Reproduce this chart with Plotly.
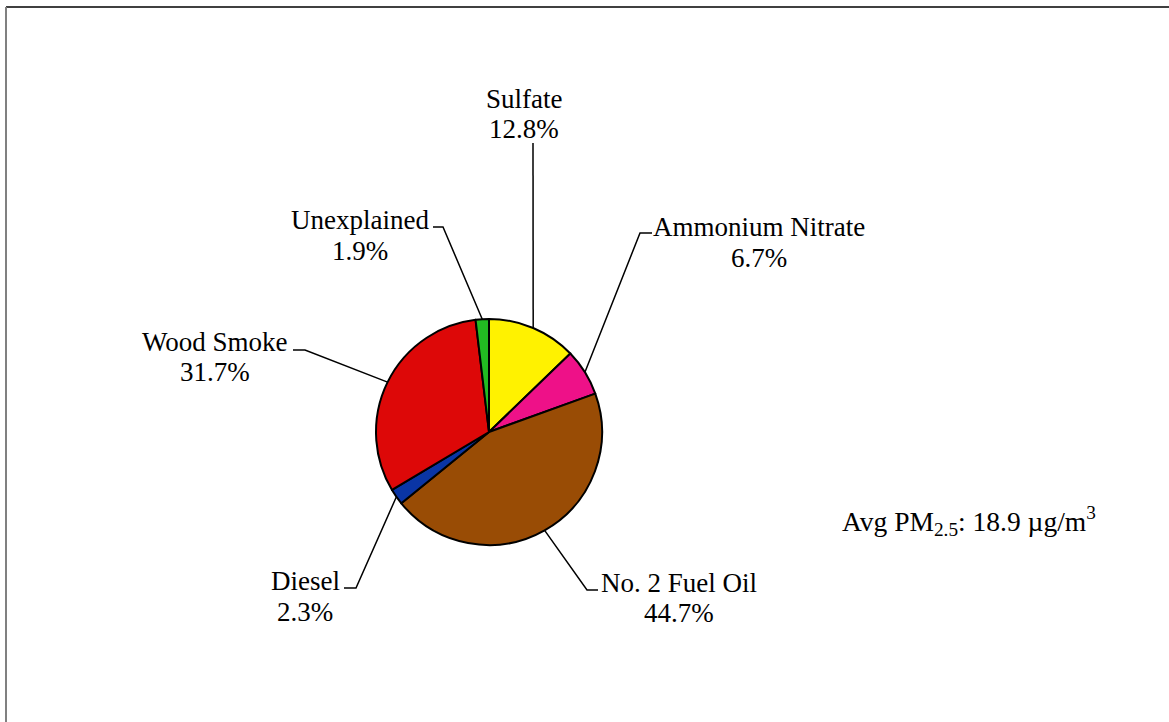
import math
import plotly.graph_objects as go

# ---- data ----
categories = ["Sulfate", "Ammonium Nitrate", "No. 2 Fuel Oil", "Diesel", "Wood Smoke", "Unexplained"]
shares = [12.8, 6.7, 44.7, 2.3, 31.7, 1.9]
colors = ["#FFF200", "#EE1188", "#994C05", "#0A35A5", "#DD0808", "#22BB22"]
note_text = "Avg PM<sub>2.5</sub>: 18.9 \u00b5g/m<sup>3</sup>"

# ---- layout (pixels) ----
W, H = 1169, 722
CX, CY, R = 489, 432, 113
FONT = "Liberation Serif, Times New Roman, serif"
FS = 27
# leader elbow, end of horizontal tick, label centre x, first/second line centre y
label_layout = [
    dict(elbow=(533, 143), end=(533, 143), cx=524, y1=99, y2=129),
    dict(elbow=(640, 233), end=(652, 233), cx=759, y1=227, y2=258),
    dict(elbow=(587, 590), end=(598, 590), cx=679, y1=583, y2=613),
    dict(elbow=(356, 588), end=(344, 588), cx=305, y1=581, y2=612),
    dict(elbow=(305, 350), end=(293, 350), cx=215, y1=342, y2=372),
    dict(elbow=(443, 227), end=(433, 227), cx=360, y1=220, y2=251),
]


def px(x):
    return x / W


def py(y):
    return 1 - y / H


fig = go.Figure()
fig.add_trace(go.Pie(
    labels=categories, values=shares, sort=False, direction="clockwise", rotation=0,
    marker=dict(colors=colors, line=dict(color="black", width=2)),
    textinfo="none", hoverinfo="label+percent", showlegend=False,
    domain=dict(x=[px(CX - R), px(CX + R)], y=[py(CY + R), py(CY - R)]),
))

shapes = []
annotations = []
total = sum(shares)
cum = 0.0
for cat, val, lay in zip(categories, shares, label_layout):
    mid = (cum + val / 2) / total
    cum += val
    ang = 2 * math.pi * mid
    sx = CX + R * math.sin(ang)
    sy = CY - R * math.cos(ang)
    ex, ey = lay["elbow"]
    tx, ty = lay["end"]
    path = f"M {px(sx)},{py(sy)} L {px(ex)},{py(ey)} L {px(tx)},{py(ty)}"
    shapes.append(dict(type="path", xref="paper", yref="paper", path=path,
                       line=dict(color="black", width=1.5)))
    for txt, yy in ((cat, lay["y1"]), (f"{val:.1f}%", lay["y2"])):
        annotations.append(dict(x=px(lay["cx"]), y=py(yy), xref="paper", yref="paper",
                                xanchor="center", yanchor="middle", text=txt, showarrow=False,
                                font=dict(family=FONT, size=FS, color="black")))

annotations.append(dict(x=px(840), y=py(521), xref="paper", yref="paper", xanchor="left",
                        yanchor="middle", text=note_text, showarrow=False,
                        font=dict(family=FONT, size=27.5, color="black")))

# chart frame
shapes.append(dict(type="line", xref="paper", yref="paper", x0=px(6), x1=1.02, y0=py(7), y1=py(7),
                   line=dict(color="black", width=1.5)))
shapes.append(dict(type="line", xref="paper", yref="paper", x0=px(6), x1=px(6), y0=py(7), y1=-0.02,
                   line=dict(color="#808080", width=2)))

fig.update_layout(
    width=W, height=H, autosize=False,
    margin=dict(l=0, r=0, t=0, b=0),
    paper_bgcolor="white", plot_bgcolor="white",
    shapes=shapes, annotations=annotations,
    font=dict(family=FONT, size=FS, color="black"),
)

fig.write_html("out.html", config={"displayModeBar": False},
               post_script="document.body.style.margin='0';document.body.style.overflow='hidden';")
